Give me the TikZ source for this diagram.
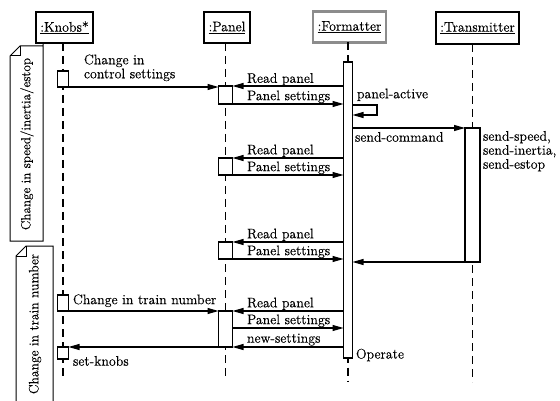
\documentclass[tikz,border=0pt]{standalone}
\usepackage{fontspec}
\setmainfont{Latin Modern Roman}[FakeBold=0.3]
\usetikzlibrary{arrows.meta}
\tikzset{
  obj/.style={draw, line width=1.2pt, inner sep=2pt, outer sep=0pt},
  objgray/.style={draw=black!45, line width=2.6pt, inner sep=2pt, outer sep=0pt},
  act/.style={draw, fill=white, line width=1.1pt, inner sep=0pt, outer sep=0pt},
  life/.style={line width=1.2pt, dash pattern=on 8pt off 5pt},
  msg/.style={line width=1.1pt, -{Triangle[length=11pt,width=6pt]}},
  lbl/.style={inner sep=0pt, outer sep=0pt},
  notebox/.style={line width=1pt, line join=miter}
}
\begin{document}
\begin{tikzpicture}[x=1pt,y=-1pt,font=\fontsize{13.9}{14}\selectfont]
\useasboundingbox[fill=white] (0,0) rectangle (560,401);

% object boxes
\node[obj, minimum width=57pt, minimum height=31pt] (knobs) at (64.5,27.5) {\underline{:Knobs*}};
\node[obj, minimum width=46pt, minimum height=31pt] (panel) at (227,27.5) {\underline{:Panel}};
\node[objgray, minimum width=73pt, minimum height=31pt] (fmt) at (349.5,27) {\underline{:Formatter}};
\node[obj, minimum width=83pt, minimum height=32pt] (tx) at (477.5,28) {\underline{:Transmitter}};

% lifeline ends
\coordinate (kEnd) at (63,380);
\coordinate (pEnd) at (225.5,380);
\coordinate (fEnd) at (348,382);
\coordinate (tEnd) at (472.5,382);

\draw[life] (knobs.south -| kEnd) -- (kEnd);
\draw[life] (panel.south -| pEnd) -- (pEnd);
\draw[life] (fmt.south -| fEnd) -- (fEnd);
\draw[life] (tx.south -| tEnd) -- (tEnd);

% activations
\node[act, minimum width=11pt, minimum height=16pt] (kA1) at (63,79) {};
\node[act, minimum width=11pt, minimum height=16pt] (kA2) at (63,303) {};
\node[act, minimum width=11pt, minimum height=12pt] (kA3) at (63,353) {};
\node[act, minimum width=14pt, minimum height=18pt] (pA1) at (225.5,95) {};
\node[act, minimum width=14pt, minimum height=17pt] (pA2) at (225.5,166.5) {};
\node[act, minimum width=14pt, minimum height=17pt] (pA3) at (225.5,250.5) {};
\node[act, minimum width=14pt, minimum height=36pt] (pA4) at (225.5,329) {};
\node[act, minimum width=9pt, minimum height=296pt] (fA) at (348,210) {};
\node[act, minimum width=15pt, minimum height=134pt] (tA) at (472.5,195) {};

% helper coordinates
\coordinate (pa1) at (0,105);
\coordinate (pa2) at (0,115);
\coordinate (ps4) at (0,328);

% messages
\draw[msg] (kA1.south east) -- (pA1.west |- kA1.south east);
\draw[msg] (fA.west |- pA1.north) -- (pA1.north east);
\draw[msg] (pA1.south east) -- (fA.west |- pA1.south east);
\draw[msg] (fA.east |- pa1) -- ++(24.5,0) -- ++(0,10) -- (fA.east |- pa2);
\draw[msg] (fA.east |- tA.north) -- (tA.north west);
\draw[msg] (fA.west |- pA2.north) -- (pA2.north east);
\draw[msg] (pA2.south east) -- (fA.west |- pA2.south east);
\draw[msg] (fA.west |- pA3.north) -- (pA3.north east);
\draw[msg] (pA3.south east) -- (fA.west |- pA3.south east);
\draw[msg] (tA.south west) -- (fA.east |- tA.south west);
\draw[msg] (kA2.south east) -- (pA4.north west);
\draw[msg] (fA.west |- pA4.north) -- (pA4.north east);
\draw[msg] (pA4.east |- ps4) -- (fA.west |- ps4);
\draw[msg] (fA.west |- pA4.south) -- (pA4.south east);
\draw[msg] (pA4.south west) -- (kA3.north east);

% labels
\node[lbl, anchor=north west, align=left] (l1) at (84,54.5) {Change in\\control settings};
\node[lbl, anchor=south west] (l2) at (247,85.5) {Read panel};
\node[lbl, anchor=south west] (l3) at (247,103) {Panel settings};
\node[lbl, anchor=south west] (l4) at (357,101) {panel-active};
\node[lbl, anchor=north west] (l5) at (355,132) {send-command};
\node[lbl, anchor=north west, align=left] (l6) at (483,131) {send-speed,\\send-inertia,\\send-estop};
\node[lbl, anchor=south west] (l7) at (247,157) {Read panel};
\node[lbl, anchor=south west] (l8) at (247,174) {Panel settings};
\node[lbl, anchor=south west] (l9) at (247,241) {Read panel};
\node[lbl, anchor=south west] (l10) at (247,258) {Panel settings};
\node[lbl, anchor=south west] (l11) at (73,307) {Change in train number};
\node[lbl, anchor=south west] (l12) at (247,310) {Read panel};
\node[lbl, anchor=south west] (l13) at (247,327) {Panel settings};
\node[lbl, anchor=south west] (l14) at (247,345.5) {new-settings};
\node[lbl, anchor=north west] (l15) at (73,356) {set-knobs};
\node[lbl, anchor=west] (l16) at (356,355) {Operate};

% notes
\draw[notebox] (43,43) -- (43,241) -- (10,241) -- (10,56) -- (20,46) -- (43,46);
\draw[notebox] (20,46) -- (20,56) -- (10,56);
\node[lbl, rotate=90, font=\fontsize{13.2}{14}\selectfont] (n1) at (27,144) {Change in speed/inertia/estop};
\draw[notebox] (53,401) -- (53,246) -- (26,246) -- (16,256) -- (16,401);
\draw[notebox] (26,246) -- (26,256) -- (16,256);
\node[lbl, rotate=90, font=\fontsize{13.6}{14}\selectfont] (n2) at (35,324) {Change in train number};
\end{tikzpicture}
\end{document}
